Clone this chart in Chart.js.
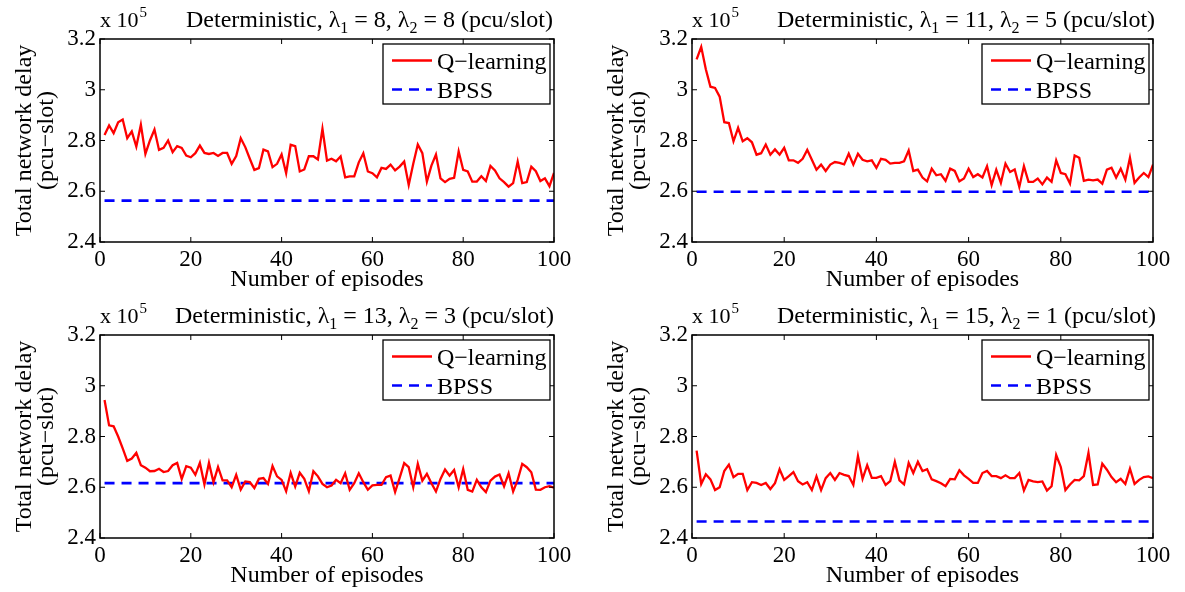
<!DOCTYPE html>
<html>
<head>
<meta charset="utf-8">
<script src="https://cdn.jsdelivr.net/npm/chart.js@4"></script>
<style>
  body { margin: 0; background: #fff; }
  #fig { position: relative; width: 1185px; height: 592px; }
  canvas { position: absolute; }
</style>
</head>
<body>
<div id="fig">
  <canvas id="c1" width="592" height="296" style="left:0;top:0"></canvas>
  <canvas id="c2" width="593" height="296" style="left:592px;top:0"></canvas>
  <canvas id="c3" width="592" height="296" style="left:0;top:296px"></canvas>
  <canvas id="c4" width="593" height="296" style="left:592px;top:296px"></canvas>
</div>
<script>
// values are in units of 10^5 pcu-slot
const episodes = [1,2,3,4,5,6,7,8,9,10,11,12,13,14,15,16,17,18,19,20,
  21,22,23,24,25,26,27,28,29,30,31,32,33,34,35,36,37,38,39,40,
  41,42,43,44,45,46,47,48,49,50,51,52,53,54,55,56,57,58,59,60,
  61,62,63,64,65,66,67,68,69,70,71,72,73,74,75,76,77,78,79,80,
  81,82,83,84,85,86,87,88,89,90,91,92,93,94,95,96,97,98,99,100];

const qLearning1 = [2.822,2.859,2.829,2.872,2.883,2.809,2.836,2.776,2.862,2.747,
  2.800,2.843,2.763,2.771,2.800,2.754,2.778,2.771,2.741,2.734,
  2.750,2.780,2.751,2.747,2.751,2.739,2.751,2.751,2.708,2.739,
  2.809,2.774,2.728,2.684,2.691,2.764,2.757,2.695,2.708,2.745,
  2.671,2.783,2.778,2.678,2.686,2.738,2.738,2.725,2.846,2.721,
  2.728,2.718,2.737,2.655,2.659,2.659,2.714,2.750,2.678,2.671,
  2.655,2.692,2.688,2.705,2.682,2.697,2.717,2.625,2.708,2.784,
  2.750,2.638,2.701,2.745,2.651,2.636,2.649,2.653,2.757,2.684,
  2.678,2.638,2.638,2.659,2.640,2.700,2.682,2.651,2.636,2.618,
  2.632,2.717,2.632,2.636,2.697,2.679,2.640,2.651,2.620,2.672];

const qLearning2 = [3.120,3.169,3.081,3.012,3.007,2.973,2.872,2.869,2.797,2.850,
  2.797,2.809,2.793,2.744,2.750,2.784,2.744,2.765,2.744,2.771,
  2.722,2.722,2.712,2.728,2.763,2.724,2.685,2.705,2.680,2.705,
  2.715,2.712,2.706,2.748,2.705,2.748,2.724,2.718,2.722,2.692,
  2.728,2.724,2.709,2.712,2.712,2.718,2.761,2.680,2.685,2.654,
  2.639,2.689,2.663,2.667,2.641,2.689,2.680,2.639,2.650,2.689,
  2.656,2.667,2.654,2.699,2.624,2.685,2.633,2.709,2.676,2.686,
  2.617,2.699,2.637,2.637,2.650,2.627,2.654,2.637,2.722,2.672,
  2.667,2.630,2.741,2.732,2.641,2.646,2.643,2.646,2.630,2.685,
  2.693,2.654,2.689,2.646,2.732,2.633,2.654,2.672,2.656,2.705];

const qLearning3 = [2.944,2.844,2.840,2.800,2.753,2.704,2.713,2.736,2.687,2.677,
  2.663,2.664,2.673,2.660,2.664,2.687,2.696,2.633,2.683,2.677,
  2.649,2.696,2.611,2.696,2.620,2.680,2.627,2.627,2.600,2.649,
  2.591,2.623,2.620,2.597,2.633,2.636,2.613,2.684,2.643,2.629,
  2.584,2.657,2.603,2.657,2.633,2.584,2.663,2.643,2.613,2.600,
  2.607,2.629,2.616,2.655,2.590,2.616,2.655,2.620,2.590,2.607,
  2.609,2.609,2.640,2.646,2.581,2.637,2.695,2.679,2.600,2.692,
  2.626,2.653,2.616,2.583,2.633,2.670,2.646,2.668,2.600,2.672,
  2.590,2.583,2.629,2.600,2.581,2.626,2.642,2.650,2.603,2.655,
  2.583,2.629,2.692,2.679,2.659,2.591,2.590,2.600,2.604,2.598];

const qLearning4 = [2.744,2.613,2.651,2.631,2.589,2.600,2.664,2.689,2.640,2.653,
  2.653,2.589,2.620,2.617,2.609,2.617,2.593,2.616,2.671,2.629,
  2.644,2.660,2.624,2.611,2.620,2.589,2.643,2.589,2.636,2.656,
  2.629,2.656,2.649,2.644,2.609,2.723,2.633,2.687,2.637,2.637,
  2.644,2.609,2.624,2.700,2.627,2.611,2.696,2.656,2.700,2.664,
  2.671,2.631,2.624,2.616,2.604,2.633,2.631,2.667,2.647,2.633,
  2.617,2.617,2.656,2.664,2.644,2.644,2.636,2.647,2.636,2.636,
  2.656,2.587,2.629,2.623,2.620,2.623,2.587,2.604,2.727,2.680,
  2.589,2.611,2.629,2.627,2.644,2.736,2.609,2.611,2.693,2.669,
  2.640,2.620,2.633,2.613,2.673,2.613,2.629,2.640,2.643,2.636];

// BPSS is flat in every panel
const bpssEpisodes = [1, 100];
const bpss1 = [2.563, 2.563];
const bpss2 = [2.598, 2.598];
const bpss3 = [2.616, 2.616];
const bpss4 = [2.465, 2.465];

const lambda1 = [8, 11, 13, 15];
const lambda2 = [8, 5, 3, 1];

const xTicks = [0, 20, 40, 60, 80, 100];
const yTicks = [2.4, 2.6, 2.8, 3, 3.2];

const FONT = "'Liberation Serif', 'Times New Roman', serif";

// MATLAB-like box with inward ticks on all four sides
const boxTicks = {
  id: "boxTicks",
  afterDraw(chart) {
    const { ctx, chartArea: a, scales } = chart;
    const len = 5;
    ctx.save();
    ctx.strokeStyle = "#000";
    ctx.lineWidth = 1.5;
    ctx.strokeRect(a.left, a.top, a.right - a.left, a.bottom - a.top);
    ctx.lineWidth = 1;
    ctx.beginPath();
    xTicks.forEach((v) => {
      const px = scales.x.getPixelForValue(v);
      ctx.moveTo(px, a.bottom); ctx.lineTo(px, a.bottom - len);
      ctx.moveTo(px, a.top); ctx.lineTo(px, a.top + len);
    });
    yTicks.forEach((v) => {
      const py = scales.y.getPixelForValue(v);
      ctx.moveTo(a.left, py); ctx.lineTo(a.left + len, py);
      ctx.moveTo(a.right, py); ctx.lineTo(a.right - len, py);
    });
    ctx.stroke();
    ctx.restore();
  },
};

// legend box in the upper right of the axes
const boxLegend = {
  id: "boxLegend",
  afterDraw(chart) {
    const { ctx, chartArea: a } = chart;
    const w = 167, h = 60;
    const left = a.right - 4 - w, top = a.top + 5;
    ctx.save();
    ctx.fillStyle = "#fff";
    ctx.fillRect(left, top, w, h);
    ctx.strokeStyle = "#000";
    ctx.lineWidth = 1.3;
    ctx.strokeRect(left, top, w, h);
    ctx.font = "24px " + FONT;
    ctx.textBaseline = "alphabetic";
    chart.data.datasets.forEach((ds, i) => {
      const y = top + 16.5 + i * 29;
      ctx.beginPath();
      ctx.strokeStyle = ds.borderColor;
      ctx.lineWidth = ds.borderWidth;
      ctx.setLineDash(ds.borderDash || []);
      ctx.moveTo(left + 9, y);
      ctx.lineTo(left + 49, y);
      ctx.stroke();
      ctx.setLineDash([]);
      ctx.fillStyle = "#000";
      ctx.fillText(ds.label, left + 54, y + 8);
    });
    ctx.restore();
  },
};

// title with subscripts and the "x 10^5" exponent label
const panelTitle = {
  id: "panelTitle",
  afterDraw(chart, args, opts) {
    const { ctx, chartArea: a } = chart;
    const big = "24px " + FONT, small = "16px " + FONT;
    const base = a.top - 12;
    ctx.save();
    ctx.fillStyle = "#000";
    ctx.textBaseline = "alphabetic";
    let x = opts.x;
    const parts = [
      ["Deterministic, \u03bb", big, 0],
      ["1", small, 6],
      [" = " + opts.l1 + ", \u03bb", big, 0],
      ["2", small, 6],
      [" = " + opts.l2 + " (pcu/slot)", big, 0],
    ];
    parts.forEach(([t, f, dy]) => {
      ctx.font = f;
      ctx.fillText(t, x, base + dy);
      x += ctx.measureText(t).width;
    });
    ctx.font = "22px " + FONT;
    ctx.fillText("x 10", a.left, base);
    const w = ctx.measureText("x 10").width;
    ctx.font = "15px " + FONT;
    ctx.fillText("5", a.left + w + 1, base - 10);
    ctx.restore();
  },
};

function makePanel(id, q, bp, l1, l2, padRight, titleX) {
  const ctx = document.getElementById(id).getContext("2d");
  return new Chart(ctx, {
    type: "line",
    data: {
      datasets: [
        {
          label: "Q\u2212learning",
          data: episodes.map((e, i) => ({ x: e, y: q[i] })),
          borderColor: "#ff0000",
          borderWidth: 2.3,
          pointRadius: 0,
          tension: 0,
        },
        {
          label: "BPSS",
          data: bpssEpisodes.map((e, i) => ({ x: e, y: bp[i] })),
          borderColor: "#0000ff",
          borderWidth: 2.7,
          borderDash: [10, 7],
          pointRadius: 0,
        },
      ],
    },
    options: {
      responsive: false,
      animation: false,
      devicePixelRatio: 1,
      layout: { padding: { left: 0, top: 39, right: padRight, bottom: 0 } },
      plugins: {
        legend: { display: false },
        tooltip: { enabled: false },
        panelTitle: { x: titleX, l1, l2 },
      },
      scales: {
        x: {
          type: "linear",
          min: 0,
          max: 100,
          afterBuildTicks: (s) => { s.ticks = xTicks.map((v) => ({ value: v })); },
          afterFit: (s) => { s.height = 54; s.paddingLeft = 0; s.paddingRight = 0; },
          grid: { display: false, drawTicks: false },
          border: { display: false },
          ticks: { color: "#000", padding: 4, maxRotation: 0, font: { family: FONT, size: 23 } },
          title: {
            display: true,
            text: "Number of episodes",
            color: "#000",
            padding: { top: 0, bottom: 2 },
            font: { family: FONT, size: 24 },
          },
        },
        y: {
          min: 2.4,
          max: 3.2,
          afterBuildTicks: (s) => { s.ticks = yTicks.map((v) => ({ value: v })); },
          afterFit: (s) => { s.width = 100; s.paddingTop = 0; s.paddingBottom = 0; },
          grid: { display: false, drawTicks: false },
          border: { display: false },
          ticks: { color: "#000", padding: 4, callback: (v) => String(v), font: { family: FONT, size: 23 } },
          title: {
            display: true,
            text: ["Total network delay", "(pcu\u2212slot)"],
            color: "#000",
            padding: { top: 13, bottom: 0 },
            font: { family: FONT, size: 24, lineHeight: 0.95 },
          },
        },
      },
    },
    plugins: [boxTicks, boxLegend, panelTitle],
  });
}

makePanel("c1", qLearning1, bpss1, lambda1[0], lambda2[0], 38, 186);
makePanel("c2", qLearning2, bpss2, lambda1[1], lambda2[1], 32, 185);
makePanel("c3", qLearning3, bpss3, lambda1[2], lambda2[2], 38, 175);
makePanel("c4", qLearning4, bpss4, lambda1[3], lambda2[3], 32, 185);
</script>
</body>
</html>
